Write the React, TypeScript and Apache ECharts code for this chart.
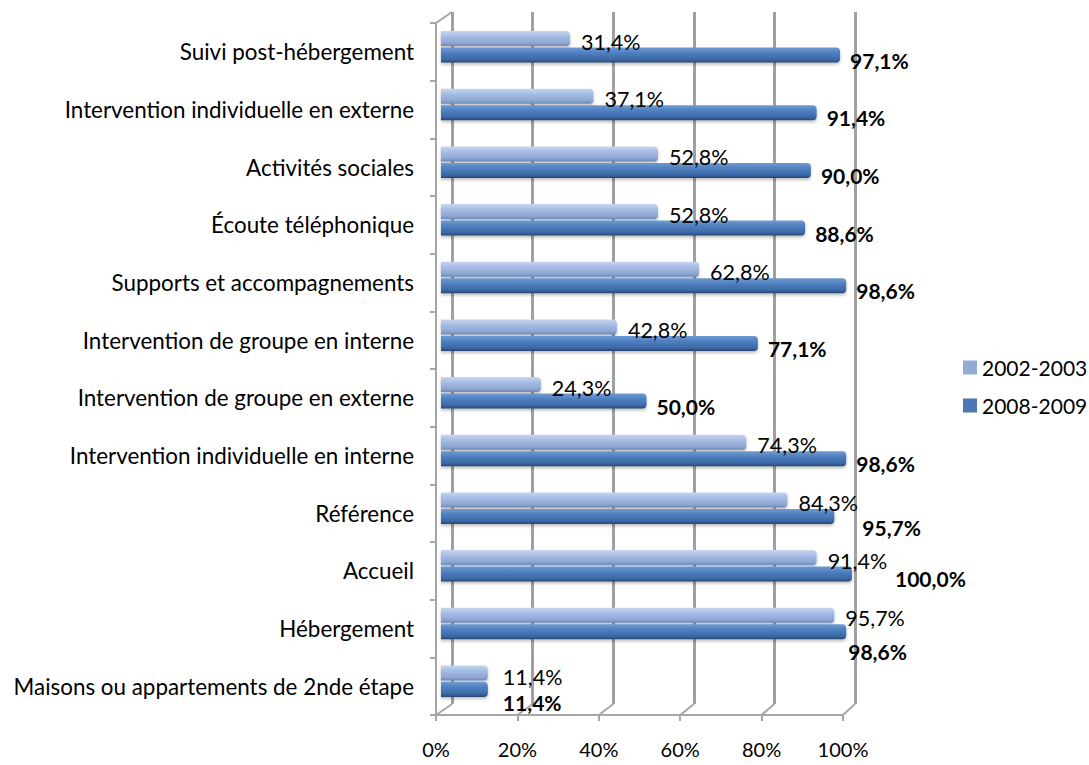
import React, { useEffect, useRef } from "react";
import * as echarts from "echarts";

const categories = [
  "Suivi post-hébergement",
  "Intervention individuelle en externe",
  "Activités sociales",
  "Écoute téléphonique",
  "Supports et accompagnements",
  "Intervention de groupe en interne",
  "Intervention de groupe en externe",
  "Intervention individuelle en interne",
  "Référence",
  "Accueil",
  "Hébergement",
  "Maisons ou appartements de 2nde étape",
];
const values2002 = [31.4, 37.1, 52.8, 52.8, 62.8, 42.8, 24.3, 74.3, 84.3, 91.4, 95.7, 11.4];
const values2008 = [97.1, 91.4, 90.0, 88.6, 98.6, 77.1, 50.0, 98.6, 95.7, 100.0, 98.6, 11.4];
const seriesNames = ["2002-2003", "2008-2009"];
const xTicks = [0, 20, 40, 60, 80, 100];

const FONT = "Lato, 'Open Sans', sans-serif";
const W = 1089;
const H = 765;
const BACK = { left: 452, right: W - 855, top: 12, bottom: H - 704 };
const FRONT = { left: 436, right: W - 843, top: 23, bottom: H - 715 };
const BARS = { left: 441, right: W - 852, top: 18, bottom: H - 710 };

// label nudges (layout only), keyed by category index
const lightNudge: Record<number, number[]> = { 11: [4, 4] };
const darkNudge: Record<number, number[]> = { 8: [18, 11], 9: [33, 4], 10: [-8, 20], 11: [5, 13] };

const fmt = (p: any) => Number(p.value).toFixed(1).replace(".", ",") + "%";

export default function App() {
  const ref = useRef<HTMLDivElement>(null);
  useEffect(() => {
    document.body.style.margin = "0";
    const chart = echarts.init(ref.current!, undefined, { renderer: "svg" });
    const lightGrad = new echarts.graphic.LinearGradient(0, 0, 0, 1, [
      { offset: 0, color: "#c7d6f0" },
      { offset: 0.35, color: "#a6bde4" },
      { offset: 0.8, color: "#8ea6d2" },
      { offset: 1, color: "#6f86b2" },
    ]);
    const darkGrad = new echarts.graphic.LinearGradient(0, 0, 0, 1, [
      { offset: 0, color: "#709bd3" },
      { offset: 0.35, color: "#4f80c0" },
      { offset: 0.8, color: "#3c68a6" },
      { offset: 1, color: "#26476f" },
    ]);
    const option: any = {
      animation: false,
      backgroundColor: "#ffffff",
      textStyle: { fontFamily: FONT },
      grid: [
        { ...BACK, containLabel: false },
        { ...FRONT, containLabel: false },
        { ...BARS, containLabel: false },
      ],
      xAxis: [
        {
          gridIndex: 0, type: "value", min: 0, max: 100, interval: 20,
          axisLabel: { show: false }, axisLine: { show: false }, axisTick: { show: false },
          splitLine: { show: true, lineStyle: { color: "#a0a0a0", width: 3 } },
        },
        {
          gridIndex: 1, type: "value", min: 0, max: 100, interval: 20,
          axisLabel: { show: true, formatter: "{value}%", color: "#000", fontSize: 20, fontFamily: FONT, margin: 24 },
          axisLine: { show: true, lineStyle: { color: "#a6a6a6", width: 2 } },
          axisTick: { show: true, length: 6, lineStyle: { color: "#a6a6a6", width: 2 } },
          splitLine: { show: false },
        },
        {
          gridIndex: 2, type: "value", min: 0, max: 100, show: false,
        },
      ],
      yAxis: [
        { gridIndex: 0, type: "value", min: 0, max: 1, show: false },
        {
          gridIndex: 1, type: "category", data: categories, inverse: true,
          axisLabel: { show: true, color: "#000", fontSize: 22.4, fontFamily: FONT, margin: 22, padding: [4, 0, 0, 0] },
          axisLine: { show: true, lineStyle: { color: "#a6a6a6", width: 2 } },
          axisTick: { show: true, length: 6, lineStyle: { color: "#a6a6a6", width: 2 } },
          splitLine: { show: false },
        },
        { gridIndex: 2, type: "category", data: categories, inverse: true, show: false },
      ],
      legend: {
        orient: "vertical",
        left: 963,
        top: 357,
        padding: 0,
        itemWidth: 14,
        itemHeight: 14,
        itemGap: 17,
        icon: "rect",
        textStyle: { fontSize: 21, color: "#000", fontFamily: FONT, lineHeight: 21 },
        data: [
          { name: seriesNames[0], itemStyle: { color: "#94aad4" } },
          { name: seriesNames[1], itemStyle: { color: "#4b78b3" } },
        ],
      },
      series: [
        {
          name: seriesNames[0],
          type: "bar",
          xAxisIndex: 2,
          yAxisIndex: 2,
          barWidth: 15,
          barGap: "10%",
          data: values2002.map((v, i) =>
            lightNudge[i] ? { value: v, label: { offset: lightNudge[i] } } : v
          ),
          itemStyle: {
            color: lightGrad,
            borderRadius: [0, 4, 4, 0],
            shadowColor: "rgba(0,0,0,0.25)",
            shadowBlur: 3,
            shadowOffsetY: 2,
          },
          label: {
            show: true,
            position: "right",
            distance: 11,
            offset: [0, 3],
            formatter: fmt,
            color: "#000",
            fontSize: 21.5,
            fontFamily: FONT,
          },
        },
        {
          name: seriesNames[1],
          type: "bar",
          xAxisIndex: 2,
          yAxisIndex: 2,
          barWidth: 15,
          barGap: "10%",
          data: values2008.map((v, i) =>
            darkNudge[i] ? { value: v, label: { offset: darkNudge[i] } } : v
          ),
          itemStyle: {
            color: darkGrad,
            borderRadius: [0, 4, 4, 0],
            shadowColor: "rgba(0,0,0,0.25)",
            shadowBlur: 3,
            shadowOffsetY: 2,
          },
          label: {
            show: true,
            position: "right",
            distance: 10,
            offset: [0, 5],
            formatter: fmt,
            color: "#000",
            fontSize: 21,
            fontWeight: "bold",
            fontFamily: FONT,
          },
        },
      ],
    };
    chart.setOption(option);

    // 3D wall/floor connector lines derived from the axes' scales
    const lineStyle = { stroke: "#a6a6a6", lineWidth: 2 };
    const frontY = H - FRONT.bottom;
    const backY = H - BACK.bottom;
    const elements: any[] = xTicks.map((v) => {
      const xf = chart.convertToPixel({ xAxisIndex: 1 }, v) as number;
      const xb = chart.convertToPixel({ xAxisIndex: 0 }, v) as number;
      return { type: "line", z: 0, shape: { x1: xf, y1: frontY, x2: xb, y2: backY }, style: lineStyle };
    });
    const xf0 = chart.convertToPixel({ xAxisIndex: 1 }, 0) as number;
    const xb0 = chart.convertToPixel({ xAxisIndex: 0 }, 0) as number;
    elements.push({
      type: "line", z: 0,
      shape: { x1: xf0, y1: FRONT.top, x2: xb0, y2: BACK.top },
      style: lineStyle,
    });
    chart.setOption({ graphic: { elements } });

    return () => chart.dispose();
  }, []);
  return <div ref={ref} style={{ width: W, height: H }} />;
}
